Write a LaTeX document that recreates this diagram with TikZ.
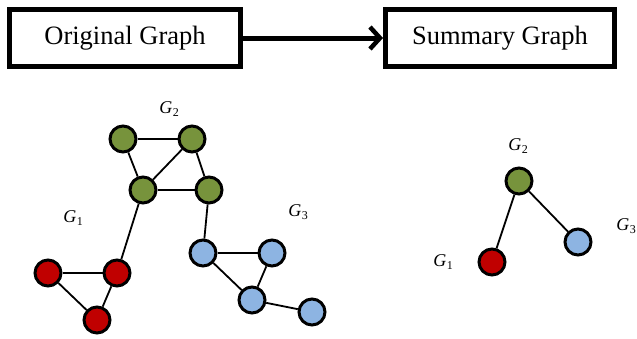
\documentclass[tikz,border=0pt]{standalone}
\usepackage{fontspec}
\setmainfont{Liberation Serif}
\usetikzlibrary{arrows.meta}
\definecolor{gnode}{RGB}{119,147,60}
\definecolor{rnode}{RGB}{192,0,0}
\definecolor{bnode}{RGB}{141,180,226}
\newcommand{\glab}[1]{\textit{G}\kern0.5pt\raisebox{-3.5pt}{\fontsize{12}{14}\selectfont #1}}
\begin{document}
\begin{tikzpicture}[x=1pt,y=-1pt,
  titlebox/.style={draw,line width=5pt,minimum width=231pt,minimum height=57pt,inner sep=0pt,font=\fontsize{26.5}{30}\selectfont},
  vtx/.style={circle,draw,line width=3pt,minimum size=26pt,inner sep=0pt},
  gv/.style={vtx,fill=gnode},
  rv/.style={vtx,fill=rnode},
  bv/.style={vtx,fill=bnode},
  edge/.style={line width=1.8pt},
  lbl/.style={inner sep=0pt,font=\fontsize{18}{20}\selectfont}]
\useasboundingbox (0,0) rectangle (637,338);
\node[titlebox] (orig) at (125,38) {Original Graph};
\node[titlebox,minimum width=229pt] (summ) at (500,38) {Summary Graph};
\draw[line width=5pt,-{Straight Barb[length=10pt,width=22pt,line width=4.5pt]}] (orig.east) -- (summ.west);
% original graph
\node[gv] (g1) at (123,139) {};
\node[gv] (g2) at (192,139) {};
\node[gv] (g3) at (143,190) {};
\node[gv] (g4) at (209,190) {};
\node[rv] (r1) at (48,273) {};
\node[rv] (r2) at (117,273) {};
\node[rv] (r3) at (97,320) {};
\node[bv] (b1) at (203,253) {};
\node[bv] (b2) at (272,253) {};
\node[bv] (b3) at (252,300) {};
\node[bv] (b4) at (312,312) {};
\draw[edge] (g1) -- (g2);
\draw[edge] (g1) -- (g3);
\draw[edge] (g2) -- (g3);
\draw[edge] (g2) -- (g4);
\draw[edge] (g3) -- (g4);
\draw[edge] (g3) -- (r2);
\draw[edge] (g4) -- (b1);
\draw[edge] (b1) -- (b2);
\draw[edge] (b1) -- (b3);
\draw[edge] (b2) -- (b3);
\draw[edge] (b3) -- (b4);
\draw[edge] (r1) -- (r2);
\draw[edge] (r1) -- (r3);
\draw[edge] (r2) -- (r3);
\node[lbl] (l2) at (169,109) {\glab{2}};
\node[lbl] (l1) at (73,218) {\glab{1}};
\node[lbl] (l3) at (298,212) {\glab{3}};
% summary graph
\node[gv] (s2) at (519,181) {};
\node[bv] (s3) at (578,242) {};
\node[rv] (s1) at (492,262) {};
\draw[edge] (s2) -- (s1);
\draw[edge] (s2) -- (s3);
\node[lbl] (m2) at (518,146) {\glab{2}};
\node[lbl] (m3) at (626,226) {\glab{3}};
\node[lbl] (m1) at (443,262) {\glab{1}};
\end{tikzpicture}
\end{document}
